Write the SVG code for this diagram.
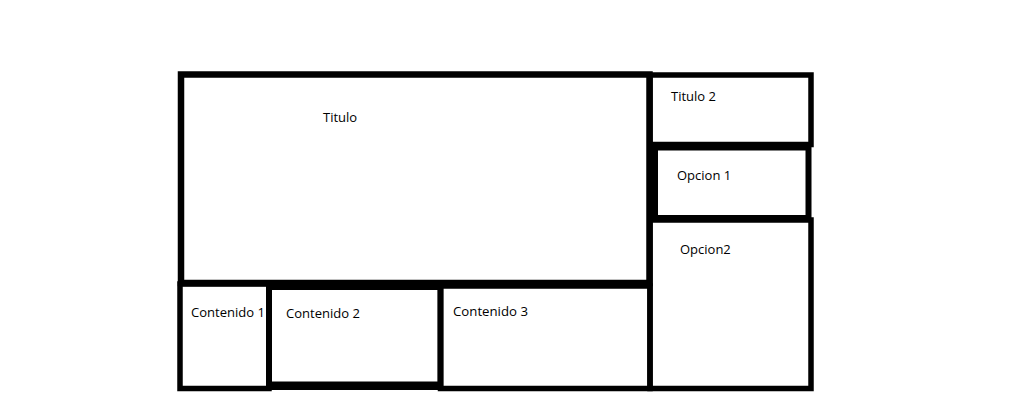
<svg xmlns="http://www.w3.org/2000/svg" width="1028" height="401" viewBox="0 0 1028 401">
<style>
.box{fill:none;stroke:#000;stroke-width:5.5;stroke-linejoin:miter}
.lbl{font-family:"Open Sans","Noto Sans",sans-serif;font-size:13px;fill:#000}
</style>
<rect width="1028" height="401" fill="#fff"/>
<g id="titulo">
<rect class="box" x="181" y="74.5" width="468.5" height="208.5" style="stroke-width:6.5"/>
<text class="lbl" x="323" y="122">Titulo</text>
</g>
<g id="titulo2">
<rect class="box" x="650" y="75" width="161" height="69.5"/>
<text class="lbl" x="671" y="101">Titulo 2</text>
</g>
<g id="opcion1">
<rect class="box" x="655" y="147.5" width="153.5" height="70.5" style="stroke-width:6"/>
<text class="lbl" x="677" y="180">Opcion 1</text>
</g>
<g id="opcion2">
<rect class="box" x="650" y="220" width="161" height="168.5"/>
<text class="lbl" x="680" y="254">Opcion2</text>
</g>
<g id="contenido1">
<rect class="box" x="180" y="284" width="89" height="104.5"/>
<text class="lbl" x="191" y="317" textLength="74" lengthAdjust="spacingAndGlyphs">Contenido 1</text>
</g>
<g id="contenido2">
<rect class="box" x="269" y="287" width="171.5" height="97.5" style="stroke-width:6"/>
<rect x="269" y="383" width="171.5" height="7" fill="#000"/>
<text class="lbl" x="286" y="318" textLength="74" lengthAdjust="spacingAndGlyphs">Contenido 2</text>
</g>
<g id="contenido3">
<rect class="box" x="440.5" y="286" width="209.5" height="102.5"/>
<text class="lbl" x="453" y="316" textLength="75" lengthAdjust="spacingAndGlyphs">Contenido 3</text>
</g>
<g id="connectors"/>
</svg>
